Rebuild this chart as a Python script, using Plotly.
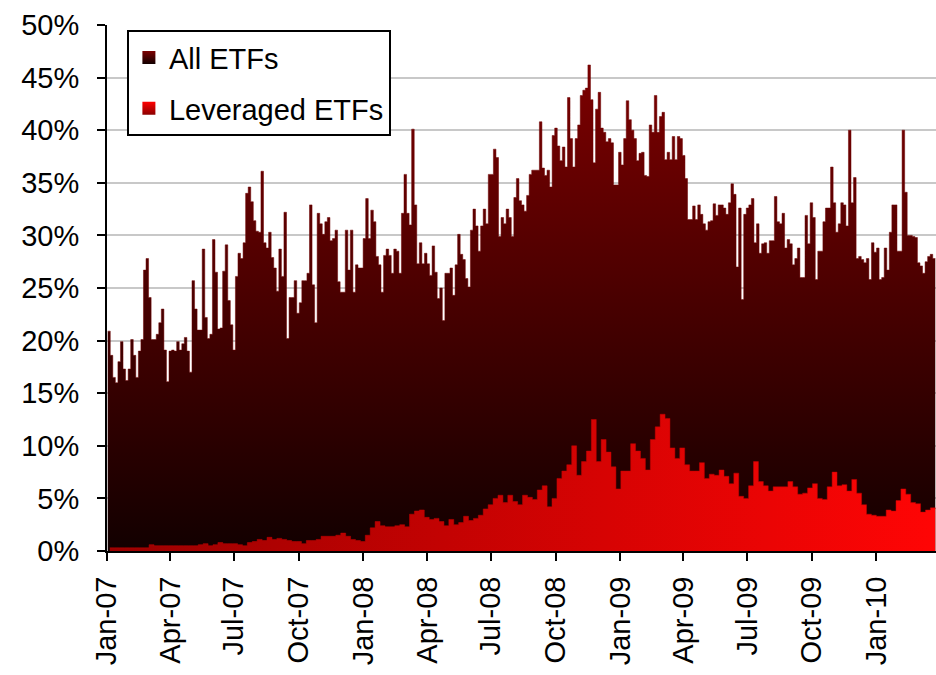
import pandas as pd
import plotly.graph_objects as go

# share of volume, in percent
all_etfs = [
    20.9, 18.6, 16.5, 16.0, 18.0, 19.9, 17.3, 16.2, 17.3, 20.1, 18.6, 16.5, 19.0, 20.1, 26.7, 27.8,
    24.1, 20.1, 20.1, 20.6, 21.7, 23.0, 19.1, 16.1, 19.0, 19.1, 19.0, 19.9, 19.1, 19.7, 20.3, 19.0,
    17.0, 25.7, 23.0, 21.0, 21.0, 28.7, 22.2, 20.2, 20.6, 29.6, 26.5, 21.1, 21.2, 26.6, 29.1, 23.8,
    21.5, 19.1, 26.1, 28.3, 27.8, 29.3, 34.0, 34.6, 33.2, 31.4, 30.4, 30.3, 36.1, 29.3, 28.8, 30.3,
    27.9, 26.9, 24.7, 28.7, 26.1, 32.2, 20.2, 24.1, 24.1, 25.7, 22.6, 23.6, 25.7, 25.7,
    26.4, 32.9, 25.3, 21.7, 32.1, 31.1, 30.1, 31.3, 31.7, 29.5, 29.7, 30.5, 25.6, 24.6, 24.6, 30.5,
    26.7, 30.5, 24.6, 27.2, 26.9, 26.9, 29.7, 33.5, 29.7, 32.4, 31.3, 28.0, 27.2, 24.6, 28.1, 28.7,
    28.1, 26.4, 28.7, 28.5, 26.4, 32.1, 35.8, 32.1, 31.0, 40.1, 32.9, 27.3, 29.3, 27.3, 28.3, 27.3,
    26.2, 29.0, 26.5, 24.0, 25.0, 21.9, 26.4, 26.4, 26.9, 24.3, 27.2, 30.1, 28.2, 27.7, 25.9, 25.1,
    30.5, 32.5, 30.9, 28.5, 30.9, 32.5, 31.1, 35.8, 35.8, 38.2, 37.4, 29.9, 31.7, 31.1, 32.5, 31.7,
    29.9, 33.6,
    35.4, 33.3, 32.9, 32.3, 33.8, 35.8, 36.2, 36.2, 36.2, 40.8, 36.4, 35.7, 36.2, 34.6, 39.5, 40.2,
    38.5, 37.1, 38.4, 36.5, 43.1, 39.2, 36.5, 39.2, 40.5, 43.3, 43.8, 44.0, 46.2, 42.9, 36.9, 42.0,
    43.6, 40.2, 39.8, 38.9, 39.2, 38.8, 34.8, 34.8, 37.9, 36.7, 39.2, 42.8, 41.0, 40.0, 39.2, 37.1,
    37.8, 37.9, 35.7, 35.6, 40.5, 39.8, 43.3, 39.8, 41.3, 41.7, 37.2, 37.9, 37.2, 39.4, 37.2, 39.4,
    39.2, 37.6, 35.4, 31.5, 31.5, 32.8, 31.5, 32.9, 32.0, 31.1, 30.5, 31.3, 31.4, 33.0, 31.9, 32.9,
    32.9, 32.6, 32.0, 33.1, 34.9, 33.9, 27.0, 32.6, 23.9, 32.0, 32.6, 32.9, 33.5, 29.3, 31.1, 28.3,
    29.2, 29.3, 28.3, 29.5, 29.5, 33.7, 31.3, 31.1, 32.1, 28.8, 29.6, 29.2, 27.2, 27.8, 28.8, 26.0,
    26.0, 31.9, 29.2, 33.1, 31.7, 25.8, 28.5, 28.5, 31.3, 32.6, 32.6, 36.5, 33.1, 30.3, 31.1, 33.1,
    32.9, 30.9, 40.0, 33.1, 35.5, 27.8, 28.0, 27.7, 27.4, 27.8, 25.8, 29.3, 28.4, 28.8, 25.8, 26.0,
    28.8, 26.7, 30.3, 32.9, 32.9, 28.5, 28.5, 40.0, 34.1, 30.0, 30.0, 29.9, 29.8, 27.4, 27.1, 26.4,
    27.5, 28.0, 28.2, 27.8, 27.8,
]

leveraged_etfs = [
    0.3, 0.3, 0.3, 0.3, 0.3, 0.3, 0.3, 0.3, 0.6, 0.5, 0.5, 0.5, 0.5, 0.5, 0.5, 0.5,
    0.5, 0.5, 0.6, 0.7, 0.5, 0.6, 0.8, 0.7, 0.7, 0.7, 0.6, 0.5, 0.8, 0.9, 1.1, 1.0,
    1.3, 1.1, 1.2, 1.1, 1.0, 0.9, 0.9, 0.7, 1.0, 1.0, 1.1, 1.4, 1.4, 1.4, 1.5, 1.7,
    1.4, 1.1, 1.0, 0.9, 1.5, 2.2, 2.8, 2.4, 2.3, 2.3, 2.4, 2.5, 2.3, 3.5, 3.8, 3.9,
    3.2, 3.0, 3.1, 2.8, 2.4, 3.0, 2.5, 2.7, 3.3, 2.9, 3.1, 3.4, 4.0, 4.4, 5.0, 5.3,
    4.6, 5.3, 4.7, 4.4,
    5.3, 5.1, 4.9, 5.8, 6.2, 4.2, 5.0, 6.9, 7.6, 8.2, 10.0, 7.2, 8.5, 9.5, 12.5, 8.5,
    10.6, 9.4, 8.0, 5.9, 7.6, 7.6, 10.2, 9.5, 8.8, 7.7, 10.6, 11.8, 13.0, 12.6, 9.8, 8.8,
    9.8, 8.2, 7.6, 7.6, 8.4, 6.9, 7.3, 7.2, 7.7, 7.1, 6.4, 7.4, 5.2, 5.0, 6.2, 8.5,
    6.6, 6.2, 5.7, 6.1, 6.1, 6.1, 6.6, 6.1, 5.4, 5.5, 6.0, 6.4, 5.0, 4.9, 6.1, 7.5,
    6.2, 6.3, 5.7, 6.8, 5.5, 4.4, 3.5, 3.4, 3.3, 3.3, 3.9, 3.8, 4.8, 5.9, 5.4, 4.6,
    4.5, 3.7, 3.9, 4.1, 4.0,
]

all_dates = pd.date_range("2007-01-02", "2010-03-26", periods=len(all_etfs))
lev_dates = pd.date_range("2007-01-05", periods=len(leveraged_etfs), freq="W-FRI")

font = "Liberation Sans, Arial, sans-serif"

fig = go.Figure()
fig.add_trace(go.Scatter(
    x=all_dates, y=all_etfs, name="All ETFs", showlegend=False,
    mode="lines", line=dict(width=0.5, color="#6e0000", shape="hv"),
    fill="tozeroy",
    fillgradient=dict(type="vertical", start=0, stop=46,
                      colorscale=[[0, "#120000"], [1, "#7c0000"]]),
))
fig.add_trace(go.Scatter(
    x=lev_dates, y=leveraged_etfs, name="Leveraged ETFs", showlegend=False,
    mode="lines", line=dict(width=0.5, color="#c40000", shape="hv"),
    fill="tozeroy",
    fillgradient=dict(type="horizontal",
                      colorscale=[[0, "#9a0000"], [1, "#ff0505"]]),
))

# square legend keys
fig.add_trace(go.Scatter(
    x=[None], y=[None], name="All ETFs", legendgroup="a", mode="markers",
    marker=dict(symbol="square", size=13, color="#7c0000",
                gradient=dict(type="vertical", color="#100000"),
                line=dict(width=0)),
))
fig.add_trace(go.Scatter(
    x=[None], y=[None], name="Leveraged ETFs", legendgroup="b", mode="markers",
    marker=dict(symbol="square", size=13, color="#ff0000",
                gradient=dict(type="vertical", color="#8a0000"),
                line=dict(width=0)),
))

fig.update_layout(
    width=936, height=675,
    margin=dict(l=107, r=0, t=25, b=124, autoexpand=False),
    paper_bgcolor="white", plot_bgcolor="white",
    font=dict(family=font, size=28, color="black"),
    showlegend=True,
    legend=dict(x=0.024, y=0.99, xanchor="left", yanchor="top",
                bgcolor="white", bordercolor="black", borderwidth=2,
                font=dict(size=29), tracegroupgap=10, itemwidth=30),
)
fig.update_xaxes(
    range=["2007-01-01", "2010-03-27"], automargin=False,
    tick0="2007-01-01", dtick="M3", tickformat="%b-%y", tickangle=-90,
    showgrid=False, showline=True, linecolor="black", linewidth=2,
    ticks="outside", ticklen=8, tickwidth=2, tickcolor="black",
    tickfont=dict(size=29), ticklabelstandoff=4,
)
fig.update_yaxes(
    range=[0, 50], dtick=5, ticksuffix="%", automargin=False,
    showgrid=True, gridcolor="#c8c8c8", gridwidth=2, zeroline=False,
    showline=True, linecolor="black", linewidth=2,
    ticks="outside", ticklen=8, tickwidth=2, tickcolor="black",
    tickfont=dict(size=29), ticklabelstandoff=12,
)

# page has a default body margin; drop it so the figure sits at the window origin
fix_page = (
    "document.body.style.margin='0';"
    "document.body.style.overflow='hidden';"
    "var gd=document.getElementById('{plot_id}');"
    "Plotly.relayout(gd,{width:936,height:675});"
)
fig.write_html("out.html", post_script=fix_page, config={"displayModeBar": False})
